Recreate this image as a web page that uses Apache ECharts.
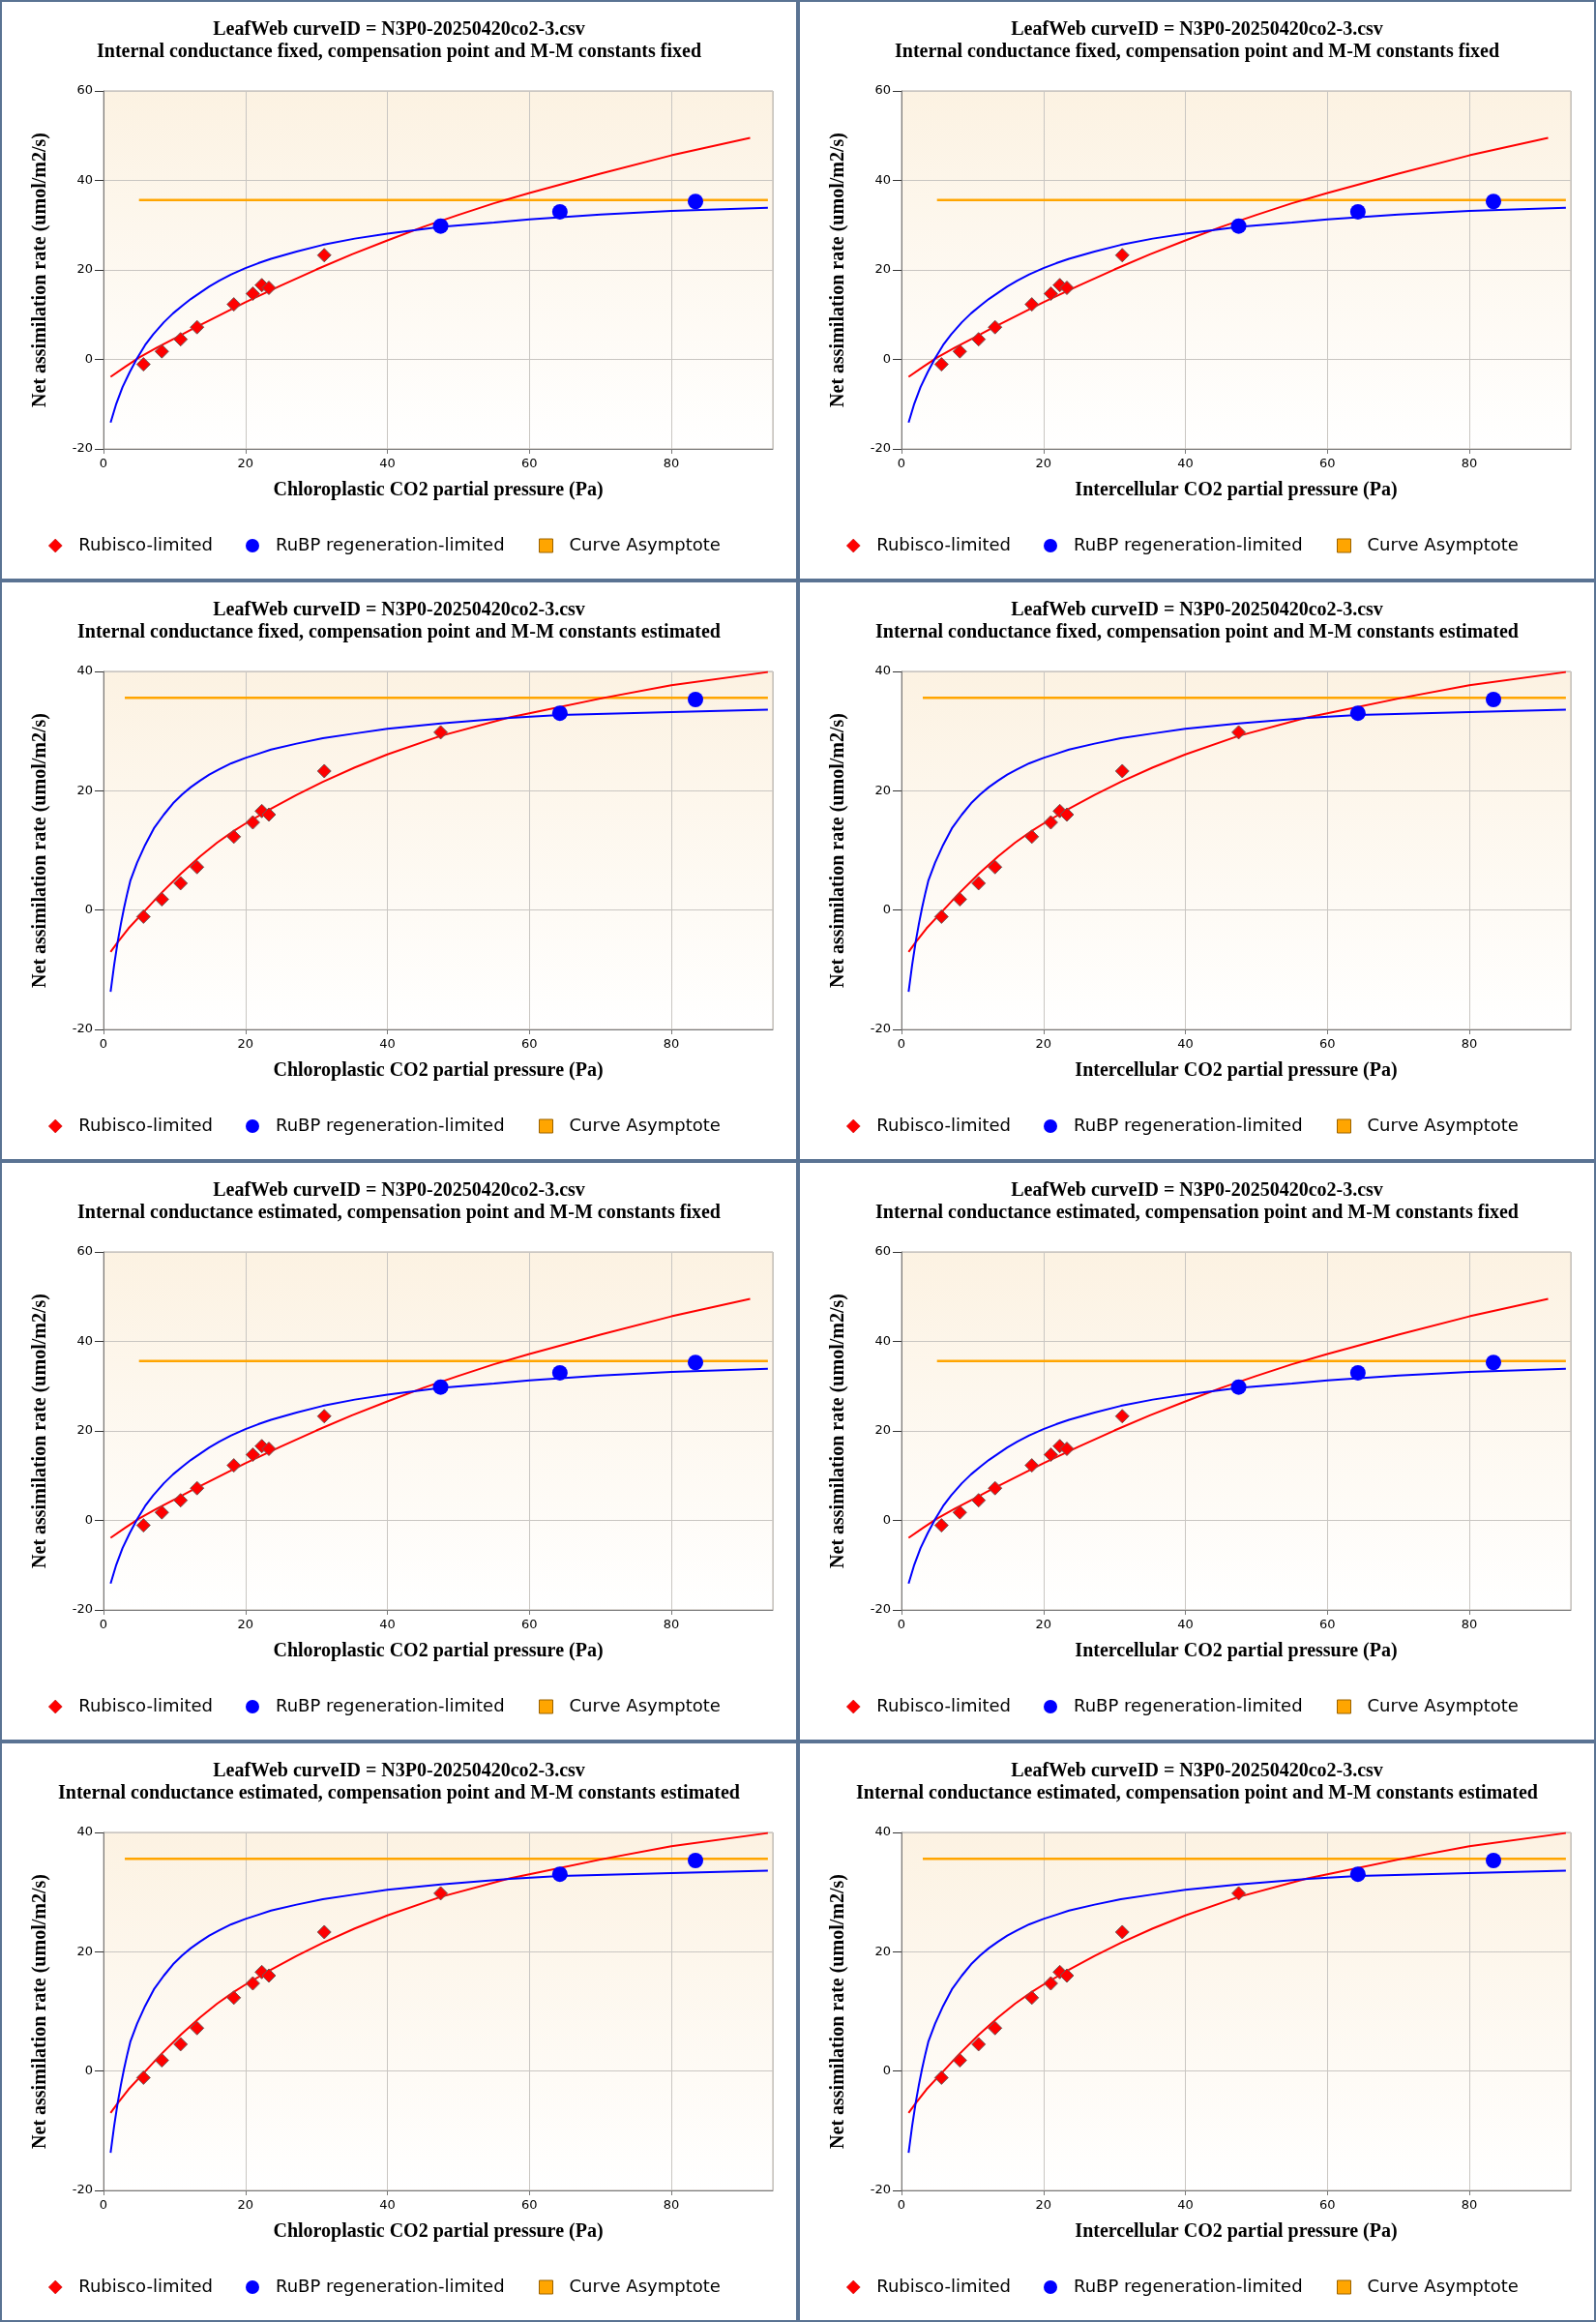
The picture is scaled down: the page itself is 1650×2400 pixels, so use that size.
<!DOCTYPE html>
<html><head><meta charset="utf-8">
<script src="https://cdn.jsdelivr.net/npm/echarts@6/dist/echarts.min.js"></script>
<style>
html,body{margin:0;padding:0;background:#fff;}
#wrap{position:relative;width:1650px;height:2400px;}
.panel{position:absolute;width:825px;height:600px;}
.chart{position:absolute;left:0;top:0;width:825px;height:600px;}
.frame{position:absolute;left:0;top:0;width:825px;height:600px;box-sizing:border-box;border:2px solid #5a7393;pointer-events:none;}
</style></head><body><div id="wrap"></div>
<script>
// ---- data ----
const fileTitle = 'LeafWeb curveID = N3P0-20250420co2-3.csv';
const rowSubtitles = [
  'Internal conductance fixed, compensation point and M-M constants fixed',
  'Internal conductance fixed, compensation point and M-M constants estimated',
  'Internal conductance estimated, compensation point and M-M constants fixed',
  'Internal conductance estimated, compensation point and M-M constants estimated'
];
const xAxisNames = ['Chloroplastic CO2 partial pressure (Pa)', 'Intercellular CO2 partial pressure (Pa)'];
const yAxisName = 'Net assimilation rate (umol/m2/s)';
const rowCase = ['fixed', 'estimated', 'fixed', 'estimated'];
const legendNames = ['Rubisco-limited', 'RuBP regeneration-limited', 'Curve Asymptote'];

// measured points (CO2, A)
const measuredCO2 = [5.63, 8.22, 10.86, 13.18, 18.36, 21.04, 22.3, 23.3, 31.1, 47.5, 64.3, 83.4];
const measuredA   = [-1.1, 1.8, 4.5, 7.2, 12.3, 14.7, 16.6, 16.0, 23.3, 29.8, 33.0, 35.3];
// number of leading points classed Rubisco-limited
const rubiscoCount = { fixed: 9, estimated: 10 };

// fitted curves
const rubFixedX = [1.0, 3, 5, 7.5, 10, 12.5, 15, 17.5, 20, 25, 30, 35, 40, 45, 50, 55, 60, 70, 80, 91.1];
const rubFixedY = [-3.9, -1.7, 0.4, 2.6, 4.7, 6.8, 8.8, 10.8, 12.8, 16.5, 20.1, 23.5, 26.6, 29.6, 32.3, 34.9, 37.2, 41.5, 45.6, 49.5];
const rubpFixedX = [1.0, 1.8, 2.68, 3.7, 4.72, 5.86, 7.0, 8.5, 9.8, 11.1, 12.3, 13.6, 14.9, 16.3, 18.0, 20, 21.8, 23.6, 25.4, 27.2, 30.9, 35.4, 40, 47.5, 55, 60, 70, 80, 93.6];
const rubpFixedY = [-14.1, -9.9, -6.2, -2.8, 0.2, 3.2, 5.6, 8.3, 10.3, 12.0, 13.5, 14.9, 16.3, 17.6, 19.0, 20.4, 21.5, 22.5, 23.3, 24.1, 25.6, 27.0, 28.1, 29.6, 30.6, 31.3, 32.4, 33.2, 33.9];

const rubEstX = [1.0, 2.0, 3.5, 5.6, 8.1, 10.9, 13.6, 16.0, 18.4, 20, 23.6, 27.2, 30.9, 35.4, 40, 47.5, 57.2, 60, 70.6, 80, 93.6];
const rubEstY = [-7.0, -5.4, -3.1, -0.4, 2.8, 6.1, 9.0, 11.3, 13.3, 14.5, 17.0, 19.3, 21.5, 23.9, 26.1, 29.2, 32.3, 33.0, 35.6, 37.7, 39.9];
const rubpEstX = [1.0, 1.5, 2.0, 2.45, 2.9, 3.35, 3.8, 4.72, 5.86, 7.1, 8.5, 9.8, 11.1, 12.3, 13.6, 14.9, 16.3, 18.0, 20, 21.8, 23.6, 27.2, 30.9, 35.4, 40, 47.5, 57.2, 64.3, 80, 93.6];
const rubpEstY = [-13.7, -9.2, -5.3, -2.3, 0.4, 2.8, 5.0, 7.9, 10.9, 13.7, 16.0, 17.9, 19.4, 20.6, 21.7, 22.7, 23.6, 24.6, 25.5, 26.2, 26.9, 27.9, 28.8, 29.6, 30.4, 31.3, 32.2, 32.7, 33.2, 33.6];

const asymptoteA = 35.6;
const asymptoteX = { fixed: [5.0, 93.6], estimated: [3.0, 93.6] };

const xMax = 94.3;
const yRange = { fixed: [-20, 60], estimated: [-20, 40] };
const yTicks = { fixed: ['-20', '0', '20', '40', '60'], estimated: ['-20', '0', '20', '40'] };

// ---- build ----
const zip = (xs, ys) => xs.map((x, i) => [x, ys[i]]);
const curves = {
  fixed: { rub: zip(rubFixedX, rubFixedY), rubp: zip(rubpFixedX, rubpFixedY) },
  estimated: { rub: zip(rubEstX, rubEstY), rubp: zip(rubpEstX, rubpEstY) }
};
const points = zip(measuredCO2, measuredA);

const serif = '"Liberation Serif", "Times New Roman", serif';
const sans = '"DejaVu Sans", Verdana, sans-serif';
const legendLefts = [45, 249, 552];
const legendIcons = [
  { icon: 'diamond', itemStyle: { color: '#ff0000', borderColor: '#b00000', borderWidth: 0.5 } },
  { icon: 'circle', itemStyle: { color: '#0000ff', borderWidth: 0 } },
  { icon: 'rect', itemStyle: { color: '#ffa500', borderColor: '#9a6200', borderWidth: 1 } }
];

const wrap = document.getElementById('wrap');
for (let row = 0; row < 4; row++) {
  for (let col = 0; col < 2; col++) {
    const p = document.createElement('div');
    p.className = 'panel';
    p.style.left = (col * 825) + 'px';
    p.style.top = (row * 600) + 'px';
    const c = document.createElement('div'); c.className = 'chart';
    const f = document.createElement('div'); f.className = 'frame';
    p.appendChild(c); p.appendChild(f); wrap.appendChild(p);

    const cs = rowCase[row];
    const nR = rubiscoCount[cs];
    const chart = echarts.init(c, null, { renderer: 'canvas' });
    chart.setOption({
      animation: false,
      backgroundColor: '#ffffff',
      title: {
        text: fileTitle + '\n' + rowSubtitles[row],
        left: 'center', top: 19, padding: 0,
        textStyle: { fontFamily: serif, fontWeight: 'bold', fontSize: 20, lineHeight: 23, color: '#000', align: 'center' }
      },
      grid: {
        left: 107, right: 26, top: 94, bottom: 136,
        show: true, borderColor: '#b4aca4', borderWidth: 1,
        backgroundColor: { type: 'linear', x: 0, y: 0, x2: 0, y2: 1,
          colorStops: [{ offset: 0, color: '#fcf2e2' }, { offset: 1, color: '#ffffff' }] }
      },
      legend: legendNames.map((n, i) => ({
        left: legendLefts[i], top: 550, itemWidth: 14, itemHeight: 14,
        selectedMode: false,
        textStyle: { fontFamily: sans, fontSize: 18, color: '#000', padding: [0, 0, 0, 12] },
        data: [Object.assign({ name: n }, legendIcons[i])]
      })),
      xAxis: {
        type: 'value', min: 0, max: xMax, interval: 20,
        name: xAxisNames[col], nameLocation: 'middle', nameGap: 33,
        nameTextStyle: { fontFamily: serif, fontWeight: 'bold', fontSize: 20, color: '#000' },
        axisLine: { show: true, onZero: false, lineStyle: { color: '#7a7a7a', width: 1 } },
        axisTick: { show: true, length: 5, lineStyle: { color: '#7a7a7a' } },
        axisLabel: { margin: 9, fontFamily: sans, fontSize: 13, color: '#000', showMaxLabel: false },
        splitLine: { show: true, lineStyle: { color: '#c9c6c2', width: 1 } }
      },
      yAxis: {
        type: 'value', min: yRange[cs][0], max: yRange[cs][1], interval: 20,
        name: yAxisName, nameLocation: 'middle', nameGap: 55, nameRotate: 90,
        nameTextStyle: { fontFamily: serif, fontWeight: 'bold', fontSize: 20, color: '#000' },
        axisLine: { show: true, onZero: false, lineStyle: { color: '#7a7a7a', width: 1 } },
        axisTick: { show: true, length: 9, lineStyle: { color: '#333' } },
        axisLabel: { margin: 11, fontFamily: sans, fontSize: 13, color: '#000',
          formatter: (v) => { const i = Math.round((v - yRange[cs][0]) / 20); return yTicks[cs][i] ?? ''; } },
        splitLine: { show: true, lineStyle: { color: '#c9c6c2', width: 1 } }
      },
      series: [
        { name: 'Curve Asymptote', type: 'line', showSymbol: false, z: 2,
          data: asymptoteX[cs].map(x => [x, asymptoteA]),
          lineStyle: { color: '#ffa500', width: 2.5 }, itemStyle: { color: '#ffa500' } },
        { name: 'Rubisco fit', type: 'line', showSymbol: false, smooth: false, z: 3,
          data: curves[cs].rub, lineStyle: { color: '#ff0000', width: 2 } },
        { name: 'RuBP fit', type: 'line', showSymbol: false, smooth: false, z: 3,
          data: curves[cs].rubp, lineStyle: { color: '#0000ff', width: 2 } },
        { name: 'Rubisco-limited', type: 'scatter', symbol: 'diamond', symbolSize: 14, z: 5,
          data: points.slice(0, nR),
          itemStyle: { color: '#ff0000', borderColor: '#6a5a5a', borderWidth: 1, opacity: 1 } },
        { name: 'RuBP regeneration-limited', type: 'scatter', symbol: 'circle', symbolSize: 16, z: 5,
          data: points.slice(nR),
          itemStyle: { color: '#0000ff', opacity: 1 } }
      ]
    });
  }
}
</script></body></html>
